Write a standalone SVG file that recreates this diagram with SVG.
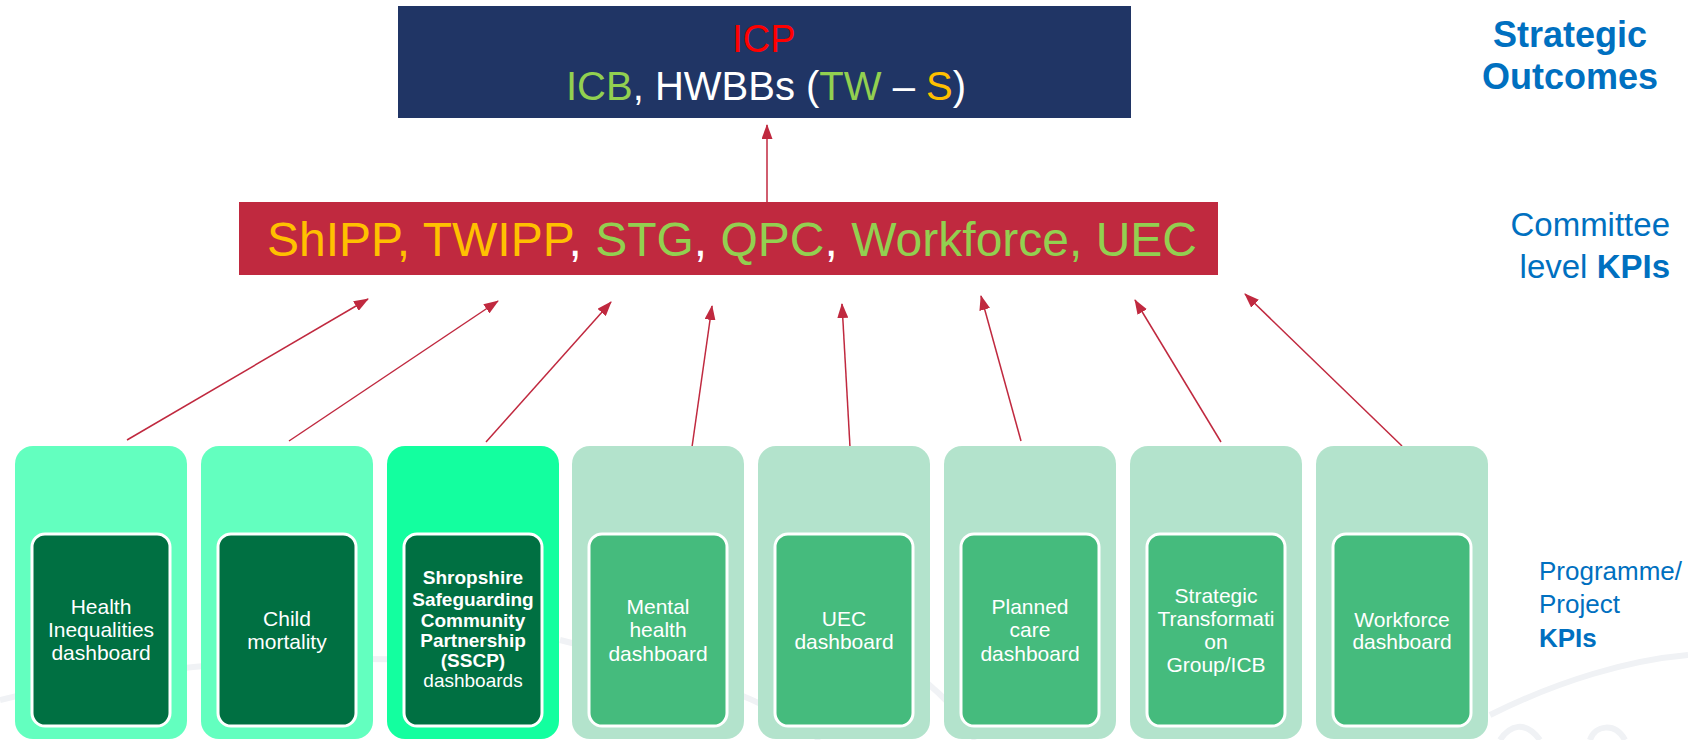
<svg xmlns="http://www.w3.org/2000/svg" width="1688" height="740" viewBox="0 0 1688 740">
<style>
  text { font-family: "Liberation Sans", Arial, sans-serif; }
  .wm { fill: none; stroke: #F0F2F5; stroke-width: 6; }
  .outer { rx: 18; ry: 18; }
  .o1 { fill: #63FFBF; }
  .o3 { fill: #13FF9F; }
  .o4 { fill: #B3E3CC; }
  .inD { fill: #007042; stroke: #FFFFFF; stroke-width: 3; }
  .inM { fill: #45BB7D; stroke: #FFFFFF; stroke-width: 3; }
  .lbl { fill: #FFFFFF; font-size: 21px; text-anchor: middle; }
  .lbl3 { fill: #FFFFFF; font-size: 19px; text-anchor: middle; }
  .conn { stroke: #C0293F; stroke-width: 1.5; fill: none; marker-end: url(#ah); }
  .side { fill: #0070C0; }
  .or { fill: #FFC000; }
  .gr { fill: #92D050; }
  .wh { fill: #FFFFFF; }
</style>
<defs>
  <marker id="ah" markerUnits="userSpaceOnUse" markerWidth="15" markerHeight="11" refX="14" refY="5.5" orient="auto">
    <path d="M0,0 L15,5.5 L0,11 z" fill="#C0293F"/>
  </marker>
</defs>
<rect width="1688" height="740" fill="#FFFFFF"/>

<g id="watermark">
  <path class="wm" d="M0,700 C120,670 260,655 420,660"/>
  <path class="wm" d="M560,640 C640,660 760,690 820,740"/>
  <path class="wm" d="M880,650 C930,680 960,710 975,740"/>
  <path class="wm" d="M1490,715 C1560,680 1630,660 1688,655"/>
  <path class="wm" d="M1500,740 C1510,725 1525,720 1540,740"/>
  <path class="wm" d="M1590,740 C1595,725 1615,722 1625,740"/>
</g>

<g id="connectors">
  <line class="conn" x1="767" y1="202" x2="767" y2="125"/>
  <line class="conn" x1="127" y1="440" x2="368" y2="299"/>
  <line class="conn" x1="289" y1="441" x2="498" y2="301"/>
  <line class="conn" x1="486" y1="442" x2="611" y2="302"/>
  <line class="conn" x1="692" y1="447" x2="712" y2="306"/>
  <line class="conn" x1="850" y1="447" x2="842" y2="304"/>
  <line class="conn" x1="1021" y1="441" x2="981" y2="296"/>
  <line class="conn" x1="1221" y1="442" x2="1135" y2="300"/>
  <line class="conn" x1="1402" y1="446" x2="1245" y2="294"/>
</g>

<g id="node-icp">
  <rect x="398" y="6" width="733" height="112" fill="#203565"/>
  <text x="764" y="52" font-size="38" text-anchor="middle" fill="#FF0000">ICP</text>
  <text x="766" y="100" font-size="40" text-anchor="middle"><tspan class="gr">ICB</tspan><tspan class="wh">, HWBBs (</tspan><tspan class="gr">TW</tspan><tspan class="wh"> – </tspan><tspan class="or">S</tspan><tspan class="wh">)</tspan></text>
</g>

<g id="node-committee">
  <rect x="239" y="202" width="979" height="73" fill="#C0293F"/>
  <text x="732" y="256" font-size="48" text-anchor="middle"><tspan class="or">ShIPP, TWIPP</tspan><tspan class="wh">, </tspan><tspan class="gr">STG</tspan><tspan class="wh">, </tspan><tspan class="gr">QPC</tspan><tspan class="wh">, </tspan><tspan class="gr">Workforce, UEC</tspan></text>
</g>

<g id="label-strategic">
  <text class="side" x="1570" y="47" font-size="36" font-weight="bold" text-anchor="middle">Strategic</text>
  <text class="side" x="1570" y="89" font-size="36" font-weight="bold" text-anchor="middle">Outcomes</text>
</g>
<g id="label-committee">
  <text class="side" x="1670" y="236" font-size="33" text-anchor="end">Committee</text>
  <text class="side" x="1670" y="278" font-size="33" text-anchor="end">level <tspan font-weight="bold">KPIs</tspan></text>
</g>
<g id="label-programme">
  <text class="side" x="1539" y="580" font-size="26">Programme/</text>
  <text class="side" x="1539" y="613" font-size="26">Project</text>
  <text class="side" x="1539" y="647" font-size="26" font-weight="bold">KPIs</text>
</g>

<g id="node-health-inequalities">
  <rect class="outer o1" x="15" y="446" width="172" height="293"/>
  <rect class="inD" x="32" y="534" width="138" height="192" rx="13"/>
  <text class="lbl" x="101" y="614">Health</text>
  <text class="lbl" x="101" y="637">Inequalities</text>
  <text class="lbl" x="101" y="660">dashboard</text>
</g>

<g id="node-child-mortality">
  <rect class="outer o1" x="201" y="446" width="172" height="293"/>
  <rect class="inD" x="218" y="534" width="138" height="192" rx="13"/>
  <text class="lbl" x="287" y="626">Child</text>
  <text class="lbl" x="287" y="649">mortality</text>
</g>

<g id="node-sscp">
  <rect class="outer o3" x="387" y="446" width="172" height="293"/>
  <rect class="inD" x="404" y="534" width="138" height="192" rx="13"/>
  <text class="lbl3" x="473" y="584" font-weight="bold">Shropshire</text>
  <text class="lbl3" x="473" y="606" font-weight="bold">Safeguarding</text>
  <text class="lbl3" x="473" y="627" font-weight="bold">Community</text>
  <text class="lbl3" x="473" y="647" font-weight="bold">Partnership</text>
  <text class="lbl3" x="473" y="667" font-weight="bold">(SSCP)</text>
  <text class="lbl3" x="473" y="687">dashboards</text>
</g>

<g id="node-mental-health">
  <rect class="outer o4" x="572" y="446" width="172" height="293"/>
  <rect class="inM" x="589" y="534" width="138" height="192" rx="13"/>
  <text class="lbl" x="658" y="614">Mental</text>
  <text class="lbl" x="658" y="637">health</text>
  <text class="lbl" x="658" y="661">dashboard</text>
</g>

<g id="node-uec">
  <rect class="outer o4" x="758" y="446" width="172" height="293"/>
  <rect class="inM" x="775" y="534" width="138" height="192" rx="13"/>
  <text class="lbl" x="844" y="626">UEC</text>
  <text class="lbl" x="844" y="649">dashboard</text>
</g>

<g id="node-planned-care">
  <rect class="outer o4" x="944" y="446" width="172" height="293"/>
  <rect class="inM" x="961" y="534" width="138" height="192" rx="13"/>
  <text class="lbl" x="1030" y="614">Planned</text>
  <text class="lbl" x="1030" y="637">care</text>
  <text class="lbl" x="1030" y="661">dashboard</text>
</g>

<g id="node-stg">
  <rect class="outer o4" x="1130" y="446" width="172" height="293"/>
  <rect class="inM" x="1147" y="534" width="138" height="192" rx="13"/>
  <text class="lbl" x="1216" y="603">Strategic</text>
  <text class="lbl" x="1216" y="626">Transformati</text>
  <text class="lbl" x="1216" y="649">on</text>
  <text class="lbl" x="1216" y="672">Group/ICB</text>
</g>

<g id="node-workforce">
  <rect class="outer o4" x="1316" y="446" width="172" height="293"/>
  <rect class="inM" x="1333" y="534" width="138" height="192" rx="13"/>
  <text class="lbl" x="1402" y="627">Workforce</text>
  <text class="lbl" x="1402" y="649">dashboard</text>
</g>
</svg>
